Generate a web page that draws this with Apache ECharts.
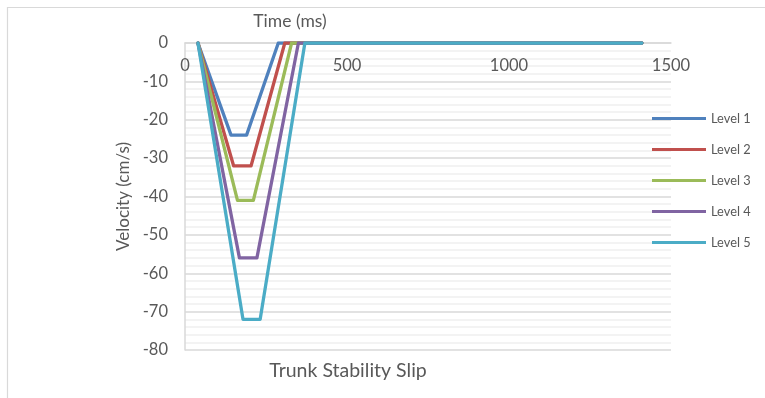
<!DOCTYPE html>
<html>
<head>
<meta charset="utf-8">
<script src="https://cdn.jsdelivr.net/npm/echarts@6/dist/echarts.min.js"></script>
<style>
html,body{margin:0;padding:0;background:#fff;}
#chart{width:765px;height:398px;}
</style>
</head>
<body>
<div id="chart"></div>
<script>
const levelNames = ['Level 1', 'Level 2', 'Level 3', 'Level 4', 'Level 5'];
const level1Time = [40, 142, 190, 288, 1410];
const level1Vel  = [0, -24, -24, 0, 0];
const level2Time = [40, 150, 204, 308, 1410];
const level2Vel  = [0, -32, -32, 0, 0];
const level3Time = [40, 162, 211, 329, 1410];
const level3Vel  = [0, -41, -41, 0, 0];
const level4Time = [40, 168, 222, 350, 1410];
const level4Vel  = [0, -56, -56, 0, 0];
const level5Time = [40, 179, 232, 370, 1410];
const level5Vel  = [0, -72, -72, 0, 0];
const xTicks = [0, 500, 1000, 1500];
const yTicks = [0, -10, -20, -30, -40, -50, -60, -70, -80];
const colors = ['#4F81BD', '#C0504D', '#9BBB59', '#8064A2', '#4BACC6'];

const times = [level1Time, level2Time, level3Time, level4Time, level5Time];
const vels = [level1Vel, level2Vel, level3Vel, level4Vel, level5Vel];

const font = 'Lato, "Open Sans", sans-serif';
const textColor = '#595959';

const chart = echarts.init(document.getElementById('chart'), null, {renderer: 'canvas'});
chart.setOption({
  animation: false,
  color: colors,
  grid: {left: 185, right: 94, top: 43, bottom: 48, containLabel: false},
  legend: {
    orient: 'vertical',
    left: 647,
    top: 107,
    itemWidth: 54,
    itemHeight: 14,
    itemGap: 18,
    icon: 'path://M0,0 L54,0 L54,3 L0,3 Z',
    textStyle: {fontFamily: font, fontSize: 12.8, color: textColor, padding: [0, 0, 0, 0]},
    data: levelNames
  },
  xAxis: {
    type: 'value',
    position: 'top',
    min: xTicks[0],
    max: xTicks[xTicks.length - 1],
    interval: xTicks[1] - xTicks[0],
    axisLine: {show: true, onZero: false, lineStyle: {color: '#d9d9d9', width: 1.5}},
    axisTick: {show: false},
    splitLine: {show: false},
    axisLabel: {inside: true, fontFamily: font, fontSize: 16.5, color: textColor, margin: 14,
      formatter: v => String(v)}
  },
  yAxis: {
    type: 'value',
    min: yTicks[yTicks.length - 1],
    max: yTicks[0],
    interval: 10,
    axisLine: {show: true, lineStyle: {color: '#d9d9d9', width: 1.5}},
    axisTick: {show: false},
    splitLine: {show: true, lineStyle: {color: '#d9d9d9', width: 1.5}},
    minorTick: {show: false, splitNumber: 5},
    minorSplitLine: {show: true, lineStyle: {color: '#f0f0f0', width: 1.5}},
    axisLabel: {fontFamily: font, fontSize: 16.5, color: textColor, margin: 17},
    name: 'Velocity (cm/s)',
    nameLocation: 'middle',
    nameRotate: 90,
    nameGap: 49,
    nameTextStyle: {fontFamily: font, fontSize: 17, color: textColor}
  },
  graphic: [
    {type: 'rect', silent: true, z: -10, shape: {x: 7.5, y: 7.5, width: 800, height: 420},
      style: {fill: 'none', stroke: '#d9d9d9', lineWidth: 1.2}},
    {type: 'text', x: 290, y: 21, silent: true,
      style: {text: 'Time (ms)', font: '17.5px ' + font, fill: textColor, align: 'center', verticalAlign: 'middle'}},
    {type: 'text', x: 348, y: 371, silent: true,
      style: {text: 'Trunk Stability Slip', font: '19.5px ' + font, fill: textColor, align: 'center', verticalAlign: 'middle'}}
  ],
  series: levelNames.map((name, i) => ({
    name: name,
    type: 'line',
    symbol: 'none',
    data: times[i].map((t, j) => [t, vels[i][j]]),
    lineStyle: {width: 3.3, color: colors[i], cap: 'round', join: 'round'},
    itemStyle: {color: colors[i]}
  }))
});
</script>
</body>
</html>
